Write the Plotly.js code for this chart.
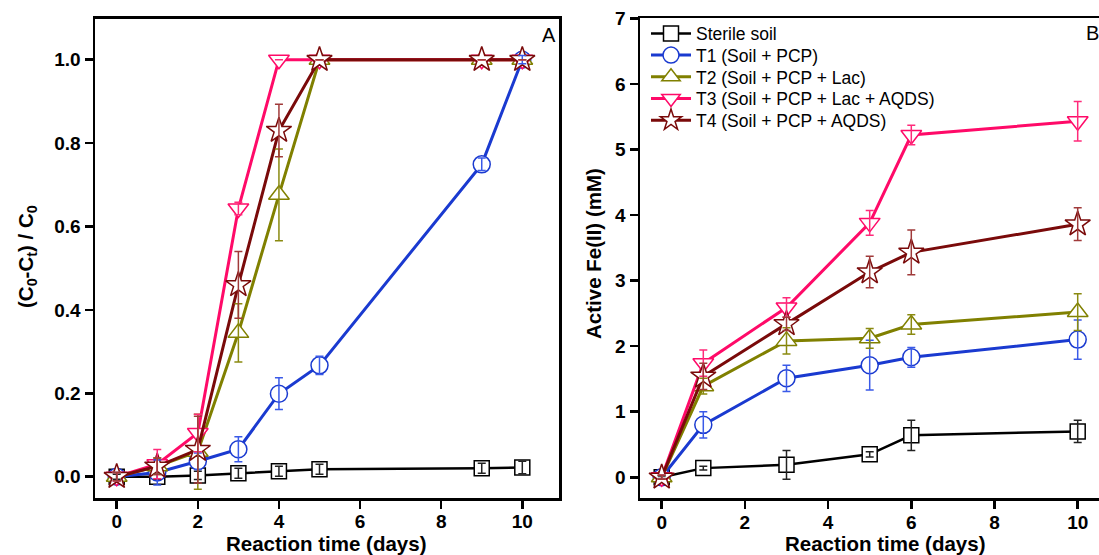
<!DOCTYPE html>
<html>
<head>
<meta charset="utf-8">
<script src="https://cdn.plot.ly/plotly-3.0.1.min.js"></script>
<style>
  html, body { margin: 0; padding: 0; background: #ffffff; overflow: hidden; }
  #chart { width: 1140px; height: 555px; }
</style>
</head>
<body>
<div id="chart"></div>
<script>
// ---------- data ----------
const seriesNames = ["Sterile soil", "T1 (Soil + PCP)", "T2 (Soil + PCP + Lac)", "T3 (Soil + PCP + Lac + AQDS)", "T4 (Soil + PCP + AQDS)"];

// Panel A: PCP removal ratio
const daysA = [0, 1, 2, 3, 4, 5, 9, 10];
const sterileA = [0, 0, 0.003, 0.008, 0.013, 0.018, 0.02, 0.022];
const sterileAErr = [0.006, 0.006, 0.01, 0.012, 0.012, 0.012, 0.012, 0.015];
const t1A = [0, 0.01, 0.037, 0.066, 0.199, 0.267, 0.749, 1.0];
const t1AErr = [0.01, 0.03, 0.02, 0.03, 0.038, 0.022, 0.015, 0.01];
const t2A = [0, 0.025, 0.06, 0.345, 0.676, 1.0, 1.0, 1.0];
const t2AErr = [0.01, 0.02, 0.09, 0.07, 0.11, 0, 0, 0];
const t3A = [0, 0.03, 0.105, 0.643, 1.0, 1.0, 1.0, 1.0];
const t3AErr = [0.01, 0.035, 0.045, 0.015, 0, 0, 0, 0];
const t4A = [0, 0.025, 0.065, 0.46, 0.83, 1.0, 1.0, 1.0];
const t4AErr = [0.01, 0.02, 0.08, 0.08, 0.063, 0, 0, 0];

// Panel B: active Fe(II) (mM)
const daysB = [0, 1, 3, 5, 6, 10];
const sterileB = [0, 0.14, 0.19, 0.35, 0.64, 0.70];
const sterileBErr = [0.02, 0.03, 0.22, 0.04, 0.23, 0.17];
const t1B = [0, 0.80, 1.51, 1.71, 1.83, 2.10];
const t1BErr = [0.03, 0.2, 0.2, 0.38, 0.15, 0.3];
const t2B = [0, 1.39, 2.08, 2.12, 2.33, 2.52];
const t2BErr = [0.03, 0.12, 0.2, 0.15, 0.15, 0.28];
const t3B = [0, 1.74, 2.59, 3.88, 5.22, 5.43];
const t3BErr = [0.03, 0.2, 0.15, 0.19, 0.15, 0.3];
const t4B = [0, 1.54, 2.34, 3.13, 3.43, 3.86];
const t4BErr = [0.03, 0.2, 0.1, 0.24, 0.34, 0.25];

const xTicks = [0, 2, 4, 6, 8, 10];
const yTicksA = [0, 0.2, 0.4, 0.6, 0.8, 1.0];
const yTicksB = [0, 1, 2, 3, 4, 5, 6, 7];

// ---------- styling ----------
const W = 1140, H = 555;
const px = v => v / W;
const py = v => 1 - v / H;
const FONT = "Liberation Sans, Arial, sans-serif";

const styles = [
  { color: "#000000", err: "#222222", symbol: "square", size: 15, lw: 2.5 },
  { color: "#1a3ad0", err: "#3a5ae8", symbol: "circle", size: 17, lw: 3 },
  { color: "#808000", err: "#8a8a10", symbol: "triangle-up", size: 18, lw: 3 },
  { color: "#ff0a68", err: "#ff2a7a", symbol: "triangle-down", size: 18, lw: 3 },
  { color: "#7a0a0a", err: "#a03a3a", symbol: "star", size: 19, lw: 3 }
];
const legendIds = ["legend", "legend2", "legend3", "legend4", "legend5"];
const legendRowY = [33.5, 55.2, 76.9, 98.6, 120.3];

const dataA = [[sterileA, sterileAErr], [t1A, t1AErr], [t2A, t2AErr], [t3A, t3AErr], [t4A, t4AErr]];
const dataB = [[sterileB, sterileBErr], [t1B, t1BErr], [t2B, t2BErr], [t3B, t3BErr], [t4B, t4BErr]];

const traces = [];
function addPanel(xs, data, xa, ya, withLegend) {
  data.forEach((d, i) => {
    const s = styles[i];
    traces.push({
      type: "scatter", mode: "lines+markers", x: xs, y: d[0],
      xaxis: xa, yaxis: ya, name: seriesNames[i], showlegend: withLegend,
      legend: legendIds[i],
      line: { color: s.color, width: s.lw },
      marker: { symbol: s.symbol, size: s.size, color: "#ffffff", line: { color: s.color, width: 1.5 } },
      cliponaxis: false, hoverinfo: "skip"
    });
  });
  data.forEach((d, i) => {
    const s = styles[i];
    traces.push({
      type: "scatter", mode: "markers", x: xs, y: d[0],
      xaxis: xa, yaxis: ya, showlegend: false,
      marker: { size: 1, color: "rgba(0,0,0,0)" },
      error_y: { type: "data", array: d[1], visible: true, color: s.err, thickness: 1.5, width: 4 },
      cliponaxis: false, hoverinfo: "skip"
    });
  });
}
addPanel(daysA, dataA, "x", "y", false);
addPanel(daysB, dataB, "x2", "y2", true);

const tickFont = { family: FONT, size: 19, color: "#000", weight: "bold" };
const titleFont = { family: FONT, size: 20.5, color: "#000", weight: "bold" };

function axisBase() {
  return {
    showgrid: false, zeroline: false, showline: true, linecolor: "#000", linewidth: 2.5,
    mirror: true, ticks: "outside", ticklen: 8, tickwidth: 2.5, tickcolor: "#000",
    tickfont: tickFont, fixedrange: true
  };
}

// pixel geometry
const aL = 95, aR = 559, aT = 18.8, aB = 498;
const bL = 640, bR = 1110, bT = 18.3, bB = 498.3;

const layout = {
  width: W, height: H,
  margin: { l: 0, r: 0, t: 0, b: 0 },
  paper_bgcolor: "#ffffff", plot_bgcolor: "#ffffff",
  showlegend: true,
  xaxis: Object.assign(axisBase(), {
    domain: [px(aL), px(aR)], range: [(aL - 116.7) / 40.56, (aR - 116.7) / 40.56],
    tickvals: xTicks, ticktext: xTicks.map(String), anchor: "y", ticklabelstandoff: -3
  }),
  yaxis: Object.assign(axisBase(), {
    domain: [py(aB), py(aT)], range: [(476.7 - aB) / 417, (476.7 - aT) / 417],
    tickvals: yTicksA, ticktext: yTicksA.map(v => v.toFixed(1)), anchor: "x"
  }),
  xaxis2: Object.assign(axisBase(), {
    domain: [px(bL), px(bR)], range: [(bL - 661.7) / 41.6, (bR - 661.7) / 41.6],
    tickvals: xTicks, ticktext: xTicks.map(String), anchor: "y2", ticklabelstandoff: -3
  }),
  yaxis2: Object.assign(axisBase(), {
    domain: [py(bB), py(bT)], range: [(477.3 - bB) / 65.57, (477.3 - bT) / 65.57],
    tickvals: yTicksB, ticktext: yTicksB.map(String), anchor: "x2"
  }),
  annotations: [
    { text: "Reaction time (days)", xref: "paper", yref: "paper", x: px(326), y: py(543.5), xanchor: "center", yanchor: "middle", showarrow: false, font: titleFont },
    { text: "Reaction time (days)", xref: "paper", yref: "paper", x: px(885), y: py(543.5), xanchor: "center", yanchor: "middle", showarrow: false, font: titleFont },
    { text: "(C<sub>0</sub>-C<sub>t</sub>) / C<sub>0</sub>", xref: "paper", yref: "paper", x: px(27), y: py(257), xanchor: "center", yanchor: "middle", textangle: -90, showarrow: false, font: titleFont },
    { text: "Active Fe(II) (mM)", xref: "paper", yref: "paper", x: px(593), y: py(254), xanchor: "center", yanchor: "middle", textangle: -90, showarrow: false, font: titleFont },
    { text: "A", xref: "paper", yref: "paper", x: px(549), y: py(35), xanchor: "center", yanchor: "middle", showarrow: false, font: { family: FONT, size: 20, color: "#000" } },
    { text: "B", xref: "paper", yref: "paper", x: px(1092), y: py(33), xanchor: "center", yanchor: "middle", showarrow: false, font: { family: FONT, size: 20, color: "#000" } }
  ]
};

legendIds.forEach((id, i) => {
  layout[id] = {
    x: px(646), y: py(legendRowY[i]), xanchor: "left", yanchor: "middle",
    bgcolor: "rgba(0,0,0,0)", borderwidth: 0, itemwidth: 40,
    font: { family: FONT, size: 17.5, color: "#000" }
  };
});

Plotly.newPlot("chart", traces, layout, { displayModeBar: false, staticPlot: true });
</script>
</body>
</html>
